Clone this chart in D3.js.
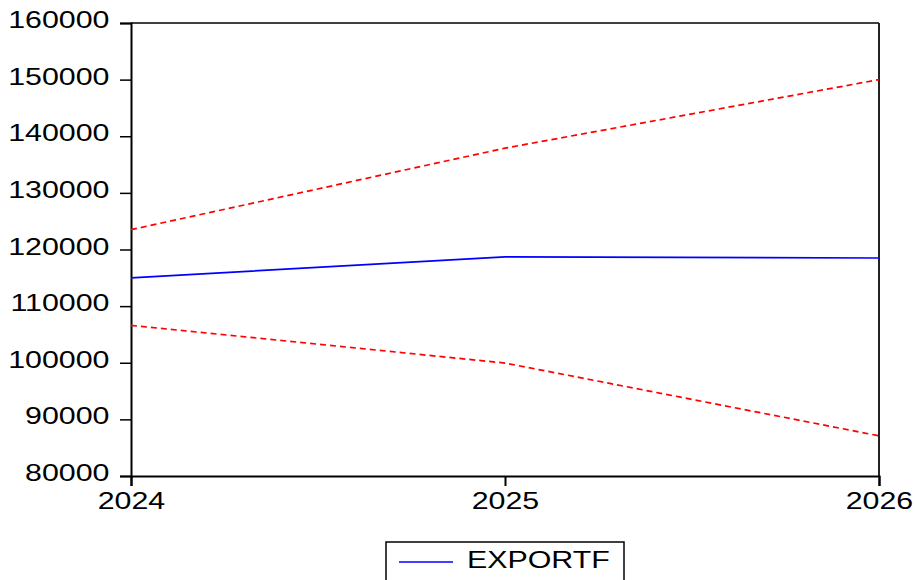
<!DOCTYPE html>
<html>
<head>
<meta charset="utf-8">
<script src="https://cdn.jsdelivr.net/npm/d3@7"></script>
<style>
  html, body { margin: 0; padding: 0; background: #fff; }
  svg { display: block; }
  text { font-family: "Liberation Sans", Arial, sans-serif; fill: #000; }
</style>
</head>
<body>
<svg id="chart" width="915" height="580"></svg>
<script>
// Forecast of EXPORTF with upper and lower +/- 2 S.E. bands
const years = [2024, 2025, 2026];
const exportF = [115000, 118700, 118500];
const upperBand = [123500, 137900, 150000];
const lowerBand = [106600, 99950, 87100];
const yTicks = [80000, 90000, 100000, 110000, 120000, 130000, 140000, 150000, 160000];
const legendLabels = ["EXPORTF"];

const W = 915, H = 580;
const plot = { left: 131, right: 879, top: 23, bottom: 476 };
const xStretch = 1.32;   // wide glyphs
const fontSize = 23;

const svg = d3.select("#chart");

const x = d3.scaleLinear().domain([2024, 2026]).range([plot.left, plot.right]);
const y = d3.scaleLinear().domain([80000, 160000]).range([plot.bottom, plot.top]);

// frame: top and right edges
svg.append("line")
  .attr("x1", plot.left).attr("x2", plot.right)
  .attr("y1", plot.top).attr("y2", plot.top)
  .attr("stroke", "#000").attr("stroke-width", 1.5);
svg.append("line")
  .attr("x1", plot.right).attr("x2", plot.right)
  .attr("y1", plot.top).attr("y2", plot.bottom)
  .attr("stroke", "#222").attr("stroke-width", 2);

// left axis
const yAxis = svg.append("g")
  .attr("transform", `translate(${plot.left},0)`)
  .call(d3.axisLeft(y).tickValues(yTicks).tickSize(11).tickFormat(d3.format("d")));
yAxis.select(".domain").attr("stroke", "#000").attr("stroke-width", 2);
yAxis.selectAll(".tick line").attr("stroke", "#000").attr("stroke-width", 1.5);
yAxis.selectAll(".tick text")
  .attr("x", null).attr("dy", null)
  .attr("text-anchor", "end")
  .attr("transform", `translate(-21.5,4.5) scale(${xStretch},1)`)
  .style("font-size", fontSize + "px")
  .style("font-family", '"Liberation Sans", Arial, sans-serif')
  .attr("fill", "#000");

// bottom axis
const xAxis = svg.append("g")
  .attr("transform", `translate(0,${plot.bottom})`)
  .call(d3.axisBottom(x).tickValues(years).tickSize(10).tickFormat(d3.format("d")));
xAxis.select(".domain").attr("stroke", "#000").attr("stroke-width", 2);
xAxis.selectAll(".tick line").attr("stroke", "#000").attr("stroke-width", 2);
xAxis.selectAll(".tick text")
  .attr("y", null).attr("dy", null)
  .attr("text-anchor", "middle")
  .attr("transform", `translate(0,33.3) scale(${xStretch},1)`)
  .style("font-size", fontSize + "px")
  .style("font-family", '"Liberation Sans", Arial, sans-serif')
  .attr("fill", "#000");

// series
const line = d3.line().x((d, i) => x(years[i])).y(d => y(d));

svg.append("path").datum(upperBand)
  .attr("d", line).attr("fill", "none")
  .attr("stroke", "#ff0000").attr("stroke-width", 1.7)
  .attr("stroke-dasharray", "6,4");
svg.append("path").datum(lowerBand)
  .attr("d", line).attr("fill", "none")
  .attr("stroke", "#ff0000").attr("stroke-width", 1.7)
  .attr("stroke-dasharray", "6,4");
svg.append("path").datum(exportF)
  .attr("d", line).attr("fill", "none")
  .attr("stroke", "#0000ff").attr("stroke-width", 1.7);

// legend
const legend = svg.append("g");
legend.append("rect")
  .attr("x", 386).attr("y", 542)
  .attr("width", 238).attr("height", 60)
  .attr("fill", "#fff").attr("stroke", "#000").attr("stroke-width", 1.5);
legend.append("line")
  .attr("x1", 399).attr("x2", 453)
  .attr("y1", 562).attr("y2", 562)
  .attr("stroke", "#0000ff").attr("stroke-width", 1.5);
legend.append("text")
  .attr("transform", `translate(467,568.3) scale(${xStretch},1)`)
  .style("font-size", fontSize + "px")
  .text(legendLabels[0]);
</script>
</body>
</html>
